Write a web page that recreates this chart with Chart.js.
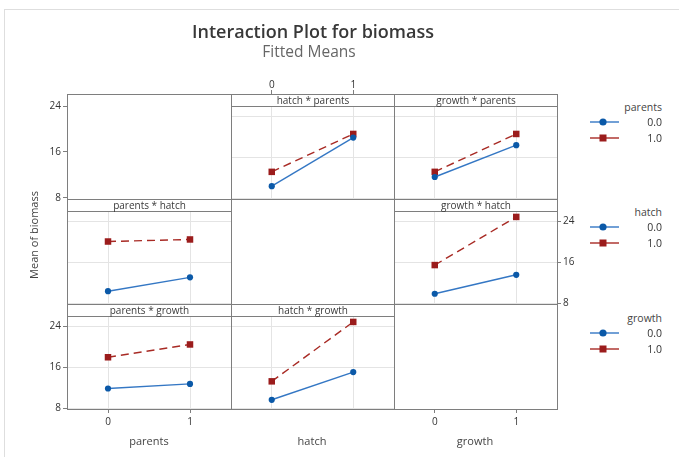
<!DOCTYPE html>
<html>
<head>
<meta charset="utf-8">
<script src="https://cdn.jsdelivr.net/npm/chart.js@4.4.1/dist/chart.umd.min.js"></script>
<style>
  body { margin: 0; background: #fff; font-family: "Open Sans", sans-serif; }
  #page { position: relative; width: 679px; height: 457px; overflow: hidden; background: #fff; }
  #edge { position: absolute; left: 4px; top: 9px; width: 700px; height: 480px; border: 1px solid #dedede; }
  canvas { position: absolute; }
  .cell { position: absolute; box-sizing: border-box; border: 1px solid #7e7e7e; }
  .hdr { position: absolute; box-sizing: border-box; border: 1px solid #7e7e7e; background: #fff;
         text-align: center; font-size: 10px; line-height: 11px; color: #3a3a3a; white-space: nowrap; }
  .txt { position: absolute; white-space: nowrap; line-height: 1; }
  svg { position: absolute; }
</style>
</head>
<body>
<div id="page"><div id="edge"></div></div>
<script>
// x levels of every factor and y ticks
const levels = [0, 1];
const yTicks = [8, 16, 24];
const factors = ['parents', 'hatch', 'growth'];
const legendLevels = ['0.0', '1.0'];

// fitted means, [x level 0, x level 1]
const hatchParents0 = [10.4, 19.9];
const hatchParents1 = [13.2, 20.6];
const growthParents0 = [12.2, 18.4];
const growthParents1 = [13.2, 20.6];
const parentsHatch0 = [10.4, 13.1];
const parentsHatch1 = [20.1, 20.5];
const growthHatch0 = [9.9, 13.6];
const growthHatch1 = [15.5, 24.9];
const parentsGrowth0 = [11.9, 12.8];
const parentsGrowth1 = [18.0, 20.5];
const hatchGrowth0 = [9.7, 15.1];
const hatchGrowth1 = [13.3, 24.9];

const blueMark = '#0b59a8', blueLine = '#3477c4';
const redMark = '#9b1c1c', redLine = '#a82a24';
const frameColor = '#7e7e7e', gridColor = '#e4e4e4', textColor = '#333';

// grid of the matrix (page pixels)
const colEdges = [67, 231, 394, 557];
const rowEdges = [94, 199, 304, 409];
const hdrH = 12;
const M = 30;

const cells = [
  { row: 0, col: 0, yRange: [7.8, 26.1], yAxis: 'left' },
  { row: 0, col: 1, title: 'hatch * parents', s0: hatchParents0, s1: hatchParents1, xAxis: 'top' },
  { row: 0, col: 2, title: 'growth * parents', s0: growthParents0, s1: growthParents1 },
  { row: 1, col: 0, title: 'parents * hatch', s0: parentsHatch0, s1: parentsHatch1 },
  { row: 1, col: 1 },
  { row: 1, col: 2, title: 'growth * hatch', s0: growthHatch0, s1: growthHatch1, yAxis: 'right' },
  { row: 2, col: 0, title: 'parents * growth', s0: parentsGrowth0, s1: parentsGrowth1, yAxis: 'left', xAxis: 'bottom' },
  { row: 2, col: 1, title: 'hatch * growth', s0: hatchGrowth0, s1: hatchGrowth1 },
  { row: 2, col: 2, xAxis: 'bottom' }
];

Chart.defaults.font.family = '"Open Sans", sans-serif';
const page = document.getElementById('page');

function toPoints(vals) {
  return levels.map((x, i) => ({ x: x, y: vals[i] }));
}

function makeCell(cell) {
  const x0 = colEdges[cell.col], x1 = colEdges[cell.col + 1];
  const y0 = rowEdges[cell.row], y1 = rowEdges[cell.row + 1];
  const canvas = document.createElement('canvas');
  canvas.width = x1 - x0 + 2 * M;
  canvas.height = y1 - y0 + 2 * M;
  canvas.style.left = (x0 - M) + 'px';
  canvas.style.top = (y0 - M) + 'px';
  page.appendChild(canvas);

  const hasData = !!cell.s0;
  const yRange = cell.yRange || [7.9, 28.4];
  const datasets = !hasData ? [] : [
    {
      label: legendLevels[0], data: toPoints(cell.s0),
      borderColor: blueLine, borderWidth: 1.4,
      pointStyle: 'circle', pointRadius: 3.1,
      pointBackgroundColor: blueMark, pointBorderColor: blueMark, pointBorderWidth: 0
    },
    {
      label: legendLevels[1], data: toPoints(cell.s1),
      borderColor: redLine, borderWidth: 1.4, borderDash: [8, 5],
      pointStyle: 'rect', pointRadius: 4.6,
      pointBackgroundColor: redMark, pointBorderColor: redMark, pointBorderWidth: 0
    }
  ];

  new Chart(canvas, {
    type: 'line',
    data: { datasets: datasets },
    options: {
      responsive: false,
      animation: false,
      events: [],
      layout: {
        autoPadding: false,
        padding: {
          left: cell.yAxis === 'left' ? 0 : M,
          right: cell.yAxis === 'right' ? 0 : M,
          top: cell.xAxis === 'top' ? 0 : M,
          bottom: cell.xAxis === 'bottom' ? 0 : M
        }
      },
      plugins: { legend: { display: false }, tooltip: { enabled: false } },
      scales: {
        x: {
          type: 'linear', min: -0.5, max: 1.5,
          position: cell.xAxis || 'bottom',
          afterBuildTicks: s => { s.ticks = levels.map(v => ({ value: v })); },
          ticks: { display: !!cell.xAxis, color: textColor, font: { size: 10 },
                   padding: cell.xAxis === 'top' ? -1 : 3,
                   callback: v => String(v) },
          grid: { display: true, drawOnChartArea: hasData, drawTicks: !!cell.xAxis,
                  tickLength: 4, color: gridColor, tickColor: frameColor },
          border: { display: false },
          afterFit: s => { s.height = cell.xAxis ? M : 0; s.paddingLeft = 0; s.paddingRight = 0; }
        },
        y: {
          type: 'linear', min: yRange[0], max: yRange[1],
          position: cell.yAxis || 'left',
          afterBuildTicks: s => { s.ticks = yTicks.map(v => ({ value: v })); },
          ticks: { display: !!cell.yAxis, color: textColor, font: { size: 10 }, padding: 2,
                   callback: v => String(v) },
          grid: { display: true, drawOnChartArea: hasData, drawTicks: !!cell.yAxis,
                  tickLength: 4, color: gridColor, tickColor: frameColor },
          border: { display: false },
          afterFit: s => { s.width = cell.yAxis ? M : 0; s.paddingTop = 0; s.paddingBottom = 0; }
        }
      }
    }
  });
}

function addBox(cls, left, top, width, height, text) {
  const d = document.createElement('div');
  d.className = cls;
  d.style.left = left + 'px';
  d.style.top = top + 'px';
  d.style.width = width + 'px';
  d.style.height = height + 'px';
  if (text) d.textContent = text;
  page.appendChild(d);
  return d;
}

function addText(text, x, y, css, anchor) {
  const d = document.createElement('div');
  d.className = 'txt';
  d.textContent = text;
  d.style.left = x + 'px';
  d.style.top = y + 'px';
  const tx = anchor === 'right' ? '-100%' : '-50%';
  d.style.transform = 'translate(' + tx + ', -50%)' + (css.rotate ? ' rotate(-90deg)' : '');
  d.style.fontSize = css.size + 'px';
  d.style.color = css.color || textColor;
  if (css.weight) d.style.fontWeight = css.weight;
  page.appendChild(d);
  return d;
}

function addSwatch(x, y, color, lineColor, square) {
  const ns = 'http://www.w3.org/2000/svg';
  const svg = document.createElementNS(ns, 'svg');
  svg.setAttribute('width', 32);
  svg.setAttribute('height', 12);
  svg.style.left = x + 'px';
  svg.style.top = (y - 6) + 'px';
  const line = document.createElementNS(ns, 'line');
  line.setAttribute('x1', 0); line.setAttribute('x2', 29);
  line.setAttribute('y1', 6); line.setAttribute('y2', 6);
  line.setAttribute('stroke', lineColor);
  line.setAttribute('stroke-width', 1.4);
  svg.appendChild(line);
  let mark;
  if (square) {
    mark = document.createElementNS(ns, 'rect');
    mark.setAttribute('x', 9.5); mark.setAttribute('y', 2.5);
    mark.setAttribute('width', 7); mark.setAttribute('height', 7);
  } else {
    mark = document.createElementNS(ns, 'circle');
    mark.setAttribute('cx', 13); mark.setAttribute('cy', 6); mark.setAttribute('r', 3.6);
  }
  mark.setAttribute('fill', color);
  svg.appendChild(mark);
  page.appendChild(svg);
}

cells.forEach(makeCell);

// frames and strip headers
cells.forEach(cell => {
  const x0 = colEdges[cell.col], x1 = colEdges[cell.col + 1];
  const y0 = rowEdges[cell.row], y1 = rowEdges[cell.row + 1];
  addBox('cell', x0, y0, x1 - x0 + 1, y1 - y0 + 1);
  if (cell.title) addBox('hdr', x0, y0, x1 - x0 + 1, hdrH + 1, cell.title);
});

// titles
addText('Interaction Plot for biomass', 313, 31, { size: 18, weight: 600, color: '#383838' });
addText('Fitted Means', 309, 52, { size: 15.5, color: '#666' });
addText('Mean of biomass', 33, 235, { size: 11, color: '#444', rotate: true });
const bottomX = [149, 312, 475];
factors.forEach((f, i) => addText(f, bottomX[i], 440, { size: 11, color: '#444' }));

// legends, one per row
const legendY = [107, 212, 318];
factors.forEach((f, r) => {
  const y = legendY[r];
  addText(f, 662, y, { size: 10.5, color: '#444' }, 'right');
  addSwatch(590, y + 15, blueMark, blueLine, false);
  addText(legendLevels[0], 662, y + 15, { size: 10.5 }, 'right');
  addSwatch(590, y + 31, redMark, redLine, true);
  addText(legendLevels[1], 662, y + 31, { size: 10.5 }, 'right');
});
</script>
</body>
</html>
